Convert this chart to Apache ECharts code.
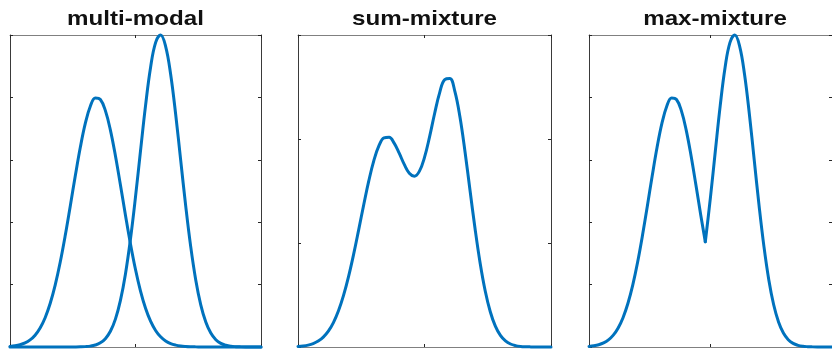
<!DOCTYPE html>
<html>
<head>
<meta charset="utf-8">
<script src="https://cdn.jsdelivr.net/npm/echarts@6/dist/echarts.min.js"></script>
<style>
  html, body { margin: 0; padding: 0; background: #fff; }
  #chart { width: 832px; height: 354px; }
</style>
</head>
<body>
<div id="chart"></div>
<script>
// Panel titles
const panelTitles = ['multi-modal', 'sum-mixture', 'max-mixture'];

// Shared sample positions along x
const xs = [0,0.2,0.4,0.6,0.8,1,1.2,1.4,1.6,1.8,2,2.2,2.4,2.6,2.8,3,3.2,3.4,3.6,3.8,
            4,4.2,4.4,4.6,4.8,5,5.2,5.4,5.6,5.8,6,6.2,6.4,6.6,6.8,7,7.2,7.4,7.6,7.8,
            8,8.2,8.4,8.6,8.8,9,9.2,9.4,9.6,9.8,10];

// Left mode (lower, wider)
const modeA = [0.0019,0.0038,0.0072,0.0130,0.0227,0.0379,0.0609,0.0939,0.1393,0.1984,
               0.2716,0.3572,0.4514,0.5480,0.6392,0.7165,0.7714,0.7980,0.7932,0.7576,
               0.6952,0.6129,0.5191,0.4225,0.3303,0.2482,0.1791,0.1242,0.0828,0.0530,
               0.0326,0.0193,0.0109,0.0060,0.0031,0.0016,0.0008,0.0004,0.0002,0.0001,
               0,0,0,0,0,0,0,0,0,0,0];

// Right mode (taller, narrower)
const modeB = [0,0,0,0,0,0,0,0,0,0,0,0,
               0.0001,0.0002,0.0005,0.0012,0.0028,0.0063,0.0133,0.0267,
               0.0504,0.0894,0.1493,0.2343,0.3461,0.4810,0.6290,0.7738,0.8958,0.9756,
               0.9997,0.9638,0.8742,0.7461,0.5990,0.4525,0.3216,0.2151,0.1353,0.0801,
               0.0446,0.0234,0.0115,0.0054,0.0023,0.0010,0.0004,0.0001,0,0,0];

// Sum of the two modes
const sumMix = [0.0019,0.0038,0.0072,0.0130,0.0227,0.0379,0.0609,0.0939,0.1393,0.1984,
                0.2716,0.3572,0.4515,0.5482,0.6397,0.7177,0.7742,0.8043,0.8065,0.7843,
                0.7456,0.7023,0.6684,0.6568,0.6764,0.7292,0.8081,0.8980,0.9786,1.0286,
                1.0323,0.9831,0.8851,0.7521,0.6021,0.4541,0.3224,0.2155,0.1355,0.0802,
                0.0446,0.0234,0.0115,0.0054,0.0023,0.0010,0.0004,0.0001,0,0,0];

// Upper envelope of the two modes, left and right of the crossing point
const maxLeftXs = [0,0.2,0.4,0.6,0.8,1,1.2,1.4,1.6,1.8,2,2.2,2.4,2.6,2.8,3,3.2,3.4,3.6,3.8,
                   4,4.2,4.4,4.6,4.785];
const maxLeft = [0.0019,0.0038,0.0072,0.0130,0.0227,0.0379,0.0609,0.0939,0.1393,0.1984,
                 0.2716,0.3572,0.4514,0.5480,0.6392,0.7165,0.7714,0.7980,0.7932,0.7576,
                 0.6952,0.6129,0.5191,0.4225,0.337];
const maxRightXs = [4.785,4.8,5,5.2,5.4,5.6,5.8,6,6.2,6.4,6.6,6.8,7,7.2,7.4,7.6,7.8,
                    8,8.2,8.4,8.6,8.8,9,9.2,9.4,9.6,9.8,10];
const maxRight = [0.337,0.3461,0.4810,0.6290,0.7738,0.8958,0.9756,0.9997,0.9638,0.8742,0.7461,
                  0.5990,0.4525,0.3216,0.2151,0.1353,0.0801,0.0446,0.0234,0.0115,0.0054,
                  0.0023,0.0010,0.0004,0.0001,0,0,0];

// Axis ranges
const xRange = { min: 0, max: 10, interval: 5 };
const yRanges = [
  { min: 0, max: 1, interval: 0.2 },
  { min: 0, max: 1.2, interval: 0.4 },
  { min: 0, max: 1, interval: 0.2 }
];

const LINE = '#0072BD';
const grids = [
  { left: 10, top: 35, width: 251, height: 312 },
  { left: 298, top: 35, width: 253, height: 312 },
  { left: 589, top: 35, width: 252, height: 312 }
];

function pairs(xv, yv) { return xv.map((x, i) => [x, yv[i]]); }

const xAxes = [], yAxes = [], series = [], graphics = [];
grids.forEach((g, i) => {
  const tick = { show: true, inside: true, length: 3, lineStyle: { color: '#262626', width: 1 } };
  ['bottom', 'top'].forEach(pos => {
    xAxes.push(Object.assign({
      type: 'value', gridIndex: i, position: pos,
      axisLine: { show: true, onZero: false, lineStyle: { color: '#808080', width: 1 } },
      axisTick: tick, axisLabel: { show: false }, splitLine: { show: false }
    }, xRange));
  });
  ['left', 'right'].forEach(pos => {
    yAxes.push(Object.assign({
      type: 'value', gridIndex: i, position: pos,
      axisLine: { show: true, onZero: false, lineStyle: { color: '#3a3a3a', width: 1 } },
      axisTick: tick, axisLabel: { show: false }, splitLine: { show: false }
    }, yRanges[i]));
  });
  // Panel heading, slightly widened
  graphics.push({
    type: 'text', x: g.left + g.width / 2, y: 9, scaleX: 1.15,
    style: {
      text: panelTitles[i], font: 'bold 21px "Liberation Sans", Arial, sans-serif',
      align: 'center', verticalAlign: 'top', fill: '#111'
    }
  });
});

function line(idx, data) {
  return {
    type: 'line', xAxisIndex: idx * 2, yAxisIndex: idx * 2, data: data,
    showSymbol: false, symbol: 'none', clip: false, smooth: 0.4,
    lineStyle: { color: LINE, width: 3, join: 'round', cap: 'round' }
  };
}
series.push(line(0, pairs(xs, modeA)));
series.push(line(0, pairs(xs, modeB)));
series.push(line(1, pairs(xs, sumMix)));
series.push(line(2, pairs(maxLeftXs, maxLeft)));
series.push(line(2, pairs(maxRightXs, maxRight)));

const chart = echarts.init(document.getElementById('chart'), null, { renderer: 'canvas' });
chart.setOption({
  animation: false,
  backgroundColor: '#fff',
  grid: grids,
  xAxis: xAxes,
  yAxis: yAxes,
  series: series,
  graphic: graphics
});
</script>
</body>
</html>
